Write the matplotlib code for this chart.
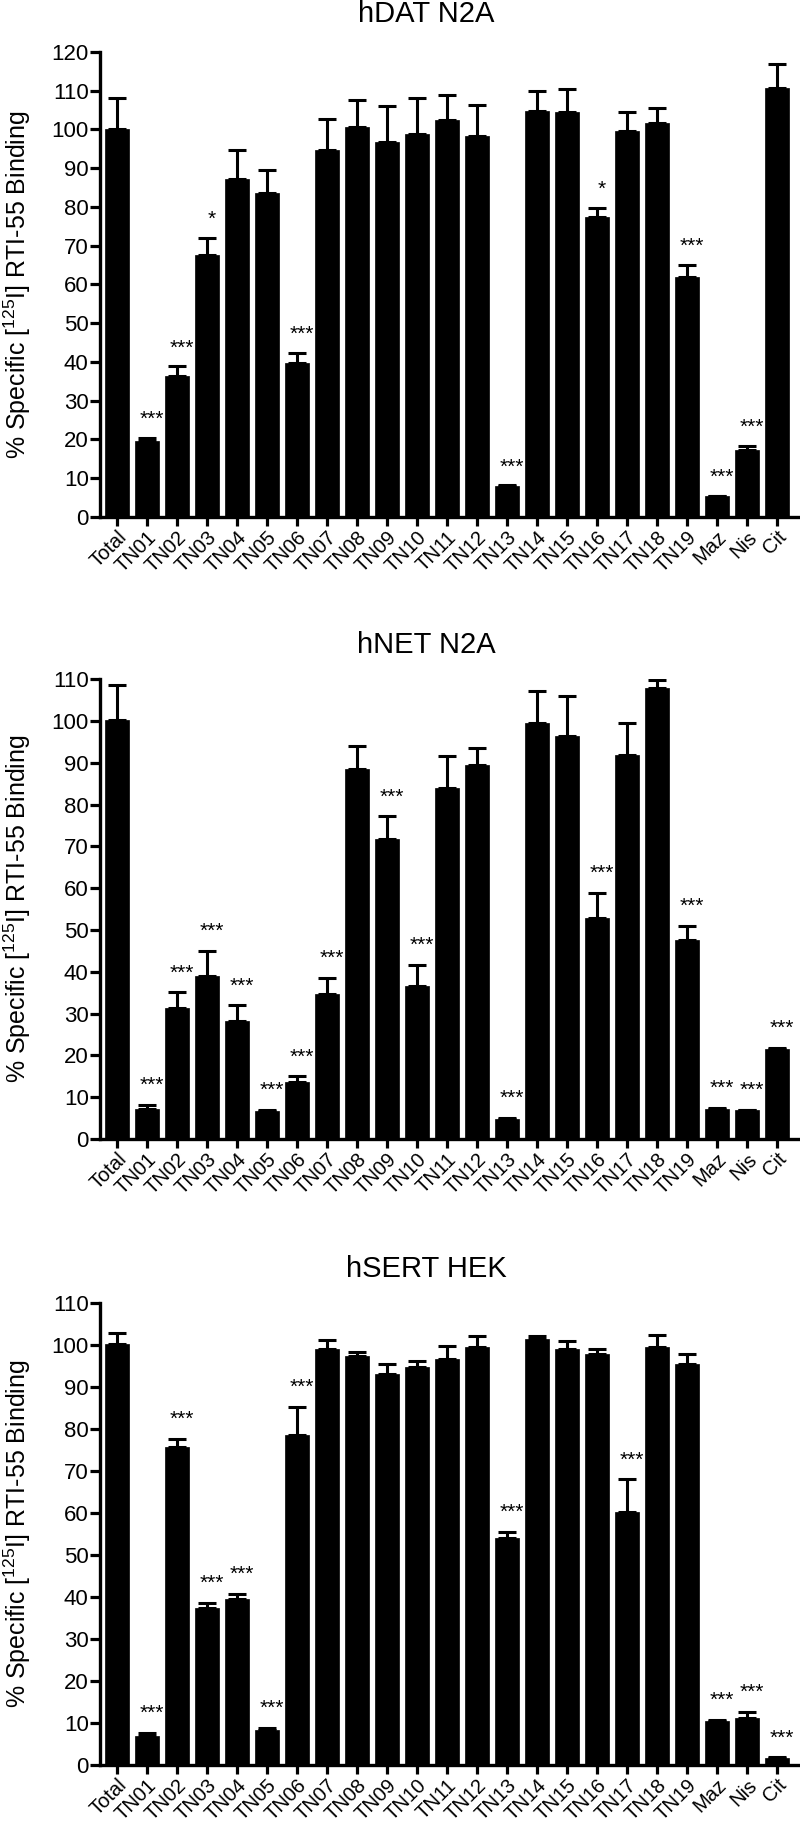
import matplotlib
matplotlib.use("Agg")
import matplotlib.pyplot as plt

plt.rcParams["font.family"] = ["Liberation Sans", "DejaVu Sans"]
plt.rcParams["mathtext.default"] = "regular"

labels = ["Total", "TN01", "TN02", "TN03", "TN04", "TN05", "TN06", "TN07",
          "TN08", "TN09", "TN10", "TN11", "TN12", "TN13", "TN14", "TN15",
          "TN16", "TN17", "TN18", "TN19", "Maz", "Nis", "Cit"]

# hDAT N2A
dat_mean = [100.0, 19.7, 36.3, 67.6, 87.2, 83.5, 39.7, 94.6, 100.5, 96.7, 98.8,
            102.5, 98.3, 7.9, 104.8, 104.6, 77.5, 99.5, 101.7, 61.8, 5.3, 17.3, 110.8]
dat_err = [8.0, 0.8, 2.6, 4.5, 7.6, 6.0, 2.7, 8.2, 7.0, 9.4, 9.2,
           6.3, 8.0, 0.3, 5.0, 5.9, 2.3, 5.1, 3.9, 3.3, 0.2, 1.0, 6.2]
dat_sig = ["", "***", "***", "*", "", "", "***", "", "", "", "",
           "", "", "***", "", "", "*", "", "", "***", "***", "***", ""]

# hNET N2A
net_mean = [100.2, 7.1, 31.3, 39.1, 28.3, 6.8, 13.6, 34.8, 88.6, 71.8, 36.5,
            84.0, 89.5, 4.8, 99.4, 96.5, 52.8, 91.8, 107.9, 47.6, 7.2, 6.9, 21.6]
net_err = [8.4, 1.1, 3.8, 5.9, 3.7, 0.2, 1.4, 3.8, 5.3, 5.4, 5.1,
           7.7, 4.1, 0.2, 7.8, 9.4, 6.1, 7.6, 1.8, 3.4, 0.2, 0.1, 0.2]
net_sig = ["", "***", "***", "***", "***", "***", "***", "***", "", "***", "***",
           "", "", "***", "", "", "***", "", "", "***", "***", "***", "***"]

# hSERT HEK
sert_mean = [100.2, 6.9, 75.7, 37.5, 39.6, 8.4, 78.6, 99.1, 97.5, 93.2, 94.8,
             96.7, 99.7, 54.1, 101.4, 99.1, 97.9, 60.2, 99.7, 95.5, 10.5, 11.2, 1.7]
sert_err = [2.7, 0.7, 2.0, 1.1, 1.2, 0.4, 6.8, 2.1, 1.0, 2.3, 1.4,
            3.2, 2.6, 1.4, 0.9, 1.9, 1.2, 7.9, 2.8, 2.4, 0.3, 1.5, 0.1]
sert_sig = ["", "***", "***", "***", "***", "***", "***", "", "", "", "",
            "", "", "***", "", "", "", "***", "", "", "***", "***", "***"]

titles = ["hDAT N2A", "hNET N2A", "hSERT HEK"]
ytops = [120, 110, 110]
ylabel = "% Specific [$^{125}$I] RTI-55 Binding"

# axes boxes in figure fraction: left, bottom, width, height
boxes = [[0.1256, 0.7172, 0.872, 0.2544],
         [0.1256, 0.3769, 0.872, 0.2516],
         [0.1256, 0.0345, 0.872, 0.2525]]
title_y = [0.9923, 0.6472, 0.3058]

fig = plt.figure(figsize=(8, 18.28), dpi=100)

panels = [(dat_mean, dat_err, dat_sig), (net_mean, net_err, net_sig),
          (sert_mean, sert_err, sert_sig)]

for i, (means, errs, sigs) in enumerate(panels):
    ax = fig.add_axes(boxes[i])
    x = list(range(len(labels)))
    ax.bar(x, means, width=0.8, color="black", edgecolor="black", linewidth=0.5,
           zorder=2)
    ax.errorbar(x, means, yerr=[[0] * len(errs), errs], fmt="none",
                ecolor="black", elinewidth=2.2, capsize=6.5, capthick=2.2,
                zorder=1)
    for xi, m, e, s in zip(x, means, errs, sigs):
        if s:
            ax.text(xi + 0.15, m + e + 3.3, s, ha="center", va="baseline",
                    fontsize=15)
    ax.set_xlim(-0.55, 22.7)
    ax.set_ylim(0, ytops[i])
    ax.set_yticks(range(0, ytops[i] + 1, 10))
    ax.set_xticks(x)
    ax.set_xticklabels(labels, rotation=45, ha="right", rotation_mode="anchor",
                       fontsize=14.5)
    ax.tick_params(axis="y", labelsize=16, width=2.3, length=7.5, pad=1)
    ax.tick_params(axis="x", width=2.3, length=6.5, pad=1)
    for side in ["top", "right"]:
        ax.spines[side].set_visible(False)
    for side in ["left", "bottom"]:
        ax.spines[side].set_linewidth(2.4)
    b = boxes[i]
    fig.text(0.022, b[1] + b[3] / 2, ylabel, rotation=90, ha="center",
             va="center", fontsize=18)
    fig.text(0.533, title_y[i], titles[i], ha="center", va="center",
             fontsize=21)

fig.savefig("out.png", dpi=100)
